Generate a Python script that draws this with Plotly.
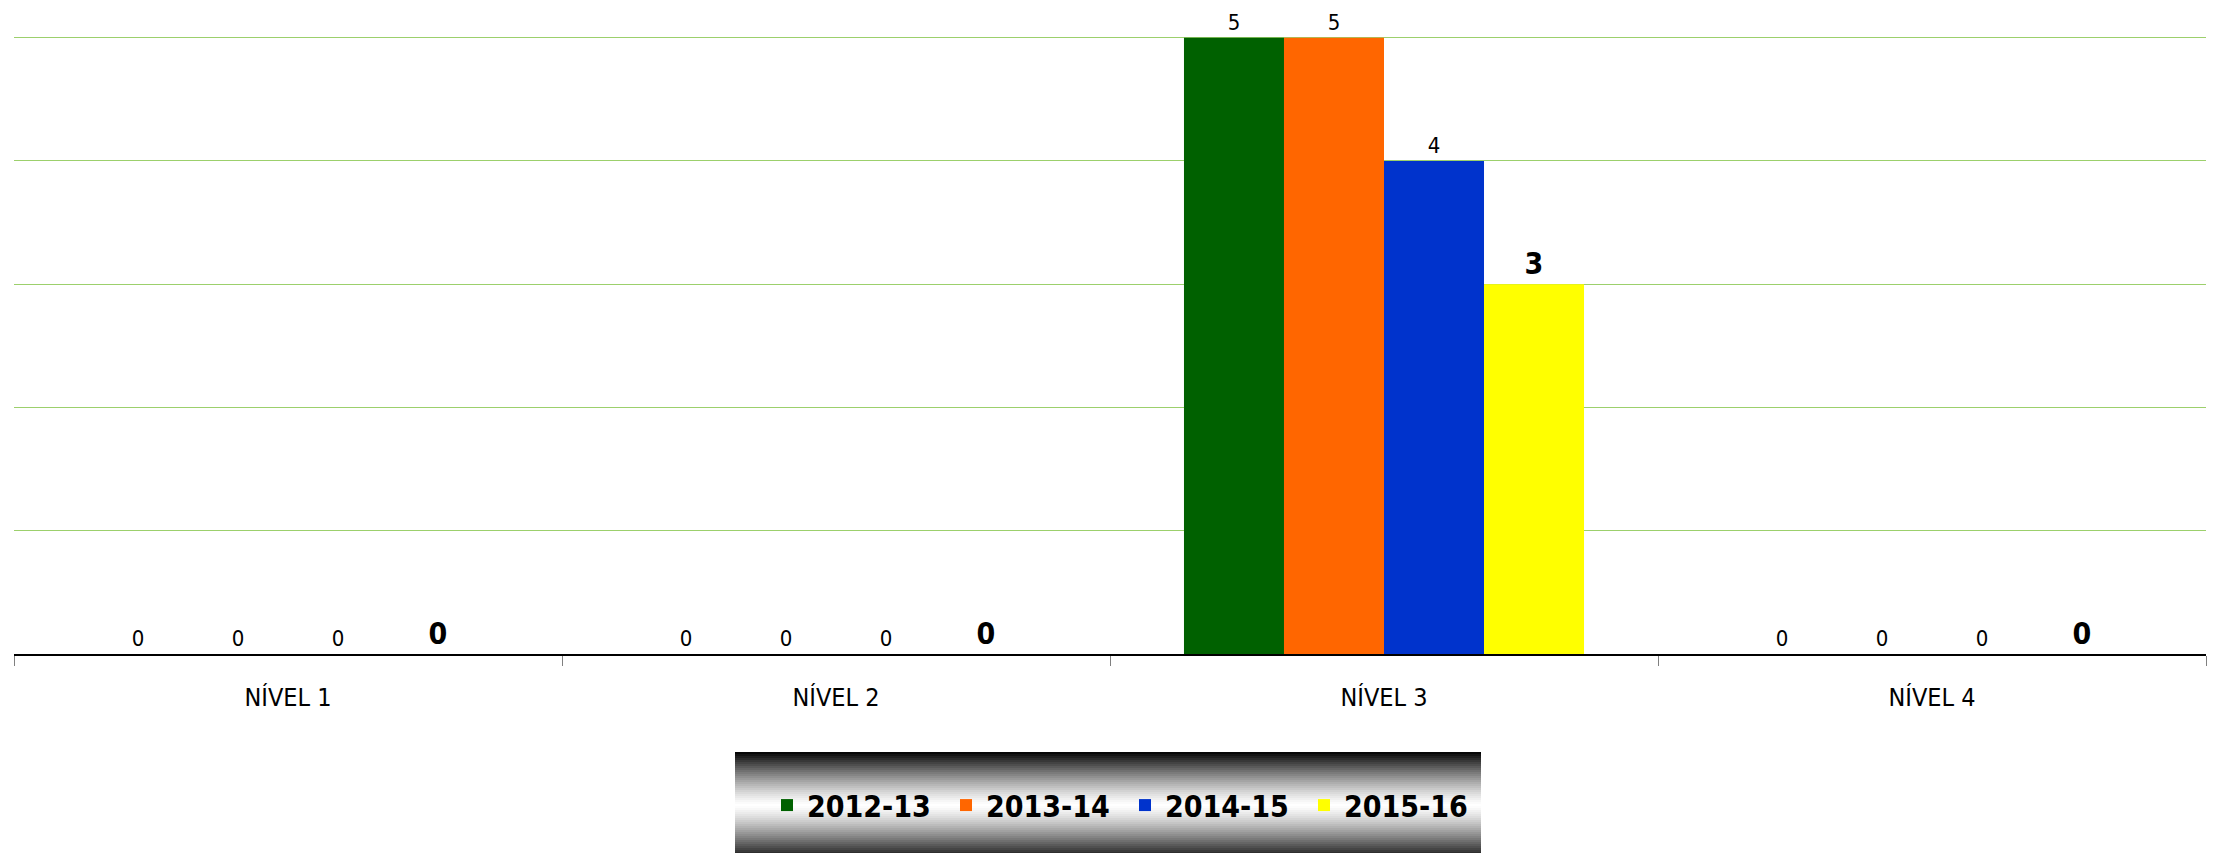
import plotly.graph_objects as go

categories = ["NÍVEL 1", "NÍVEL 2", "NÍVEL 3", "NÍVEL 4"]
series_names = ["2012-13", "2013-14", "2014-15", "2015-16"]
v_2012_13 = [0, 0, 5, 0]
v_2013_14 = [0, 0, 5, 0]
v_2014_15 = [0, 0, 4, 0]
v_2015_16 = [0, 0, 3, 0]
colors = ["#006100", "#FF6600", "#0033CC", "#FFFF00"]

FONT = "DejaVu Sans Condensed, Liberation Sans Narrow, Arial Narrow, DejaVu Sans, sans-serif"

fig = go.Figure()
all_vals = [v_2012_13, v_2013_14, v_2014_15, v_2015_16]
for i, (name, vals, col) in enumerate(zip(series_names, all_vals, colors)):
    last = i == 3
    fig.add_trace(go.Bar(
        name=name, x=categories, y=vals, marker=dict(color=col, line=dict(width=0)),
        text=[str(v) for v in vals], textposition="outside", cliponaxis=False,
        textfont=dict(family=FONT, size=30 if last else 22, color="black",
                      weight="bold" if last else "normal"),
    ))

# page body has an 8px margin: work in screen pixels, then subtract it
OFF = 8
W, H = 2222 - OFF, 853 - OFF
YMAX = 5.03
x_left, x_right = 14, 2206          # screen px of plot area
y_zero, y_five = 654, 38            # screen px of value 0 and value 5
unit = (y_zero - y_five) / 5
ph = unit * YMAX
pw = x_right - x_left
ml = x_left - OFF
mt = (y_zero - ph) - OFF
mb = H - mt - ph
mr = W - ml - pw

def sx(x):
    return (x - x_left) / pw
def sy(y):
    return (y_zero - y) / ph

shapes = []
top, bot, mid = 752, 853, 805
for y in range(top, bot, 2):
    d = abs(y + 1 - mid)
    span = (mid - top) if y < mid else (bot - mid + 8)
    g = max(0.0, 1 - (d / span) ** 1.3)
    c = int(round(255 * g))
    shapes.append(dict(type="rect", xref="paper", yref="paper",
                       x0=sx(735), x1=sx(1481), y0=sy(y + 2), y1=sy(y),
                       fillcolor=f"rgb({c},{c},{c})", line=dict(width=0), layer="below"))

fig.update_layout(
    width=W, height=H,
    margin=dict(l=ml, r=mr, t=mt, b=mb, autoexpand=False),
    paper_bgcolor="white", plot_bgcolor="white",
    barmode="group", bargap=0.27, bargroupgap=0,
    font=dict(family=FONT, color="black"),
    shapes=shapes,
    legend=dict(orientation="h", x=sx(1125), xanchor="center",
                y=sy(805), yanchor="middle",
                bgcolor="rgba(0,0,0,0)",
                font=dict(family=FONT, size=30, color="black", weight="bold"),
                itemwidth=30, tracegroupgap=0, entrywidth=134, entrywidthmode="pixels"),
    showlegend=True,
)
fig.update_xaxes(
    type="category", showline=True, linecolor="black", linewidth=1.5,
    ticks="outside", tickson="boundaries", ticklen=10, tickcolor="#808080", tickwidth=1,
    tickfont=dict(family=FONT, size=25, color="black"), ticklabelstandoff=20,
    showgrid=False,
)
fig.update_yaxes(
    range=[0, YMAX], dtick=1, showgrid=True, gridcolor="#9CD06C", gridwidth=1,
    showticklabels=False, zeroline=False, showline=False, ticks="",
)

fig.write_html("out.html")
